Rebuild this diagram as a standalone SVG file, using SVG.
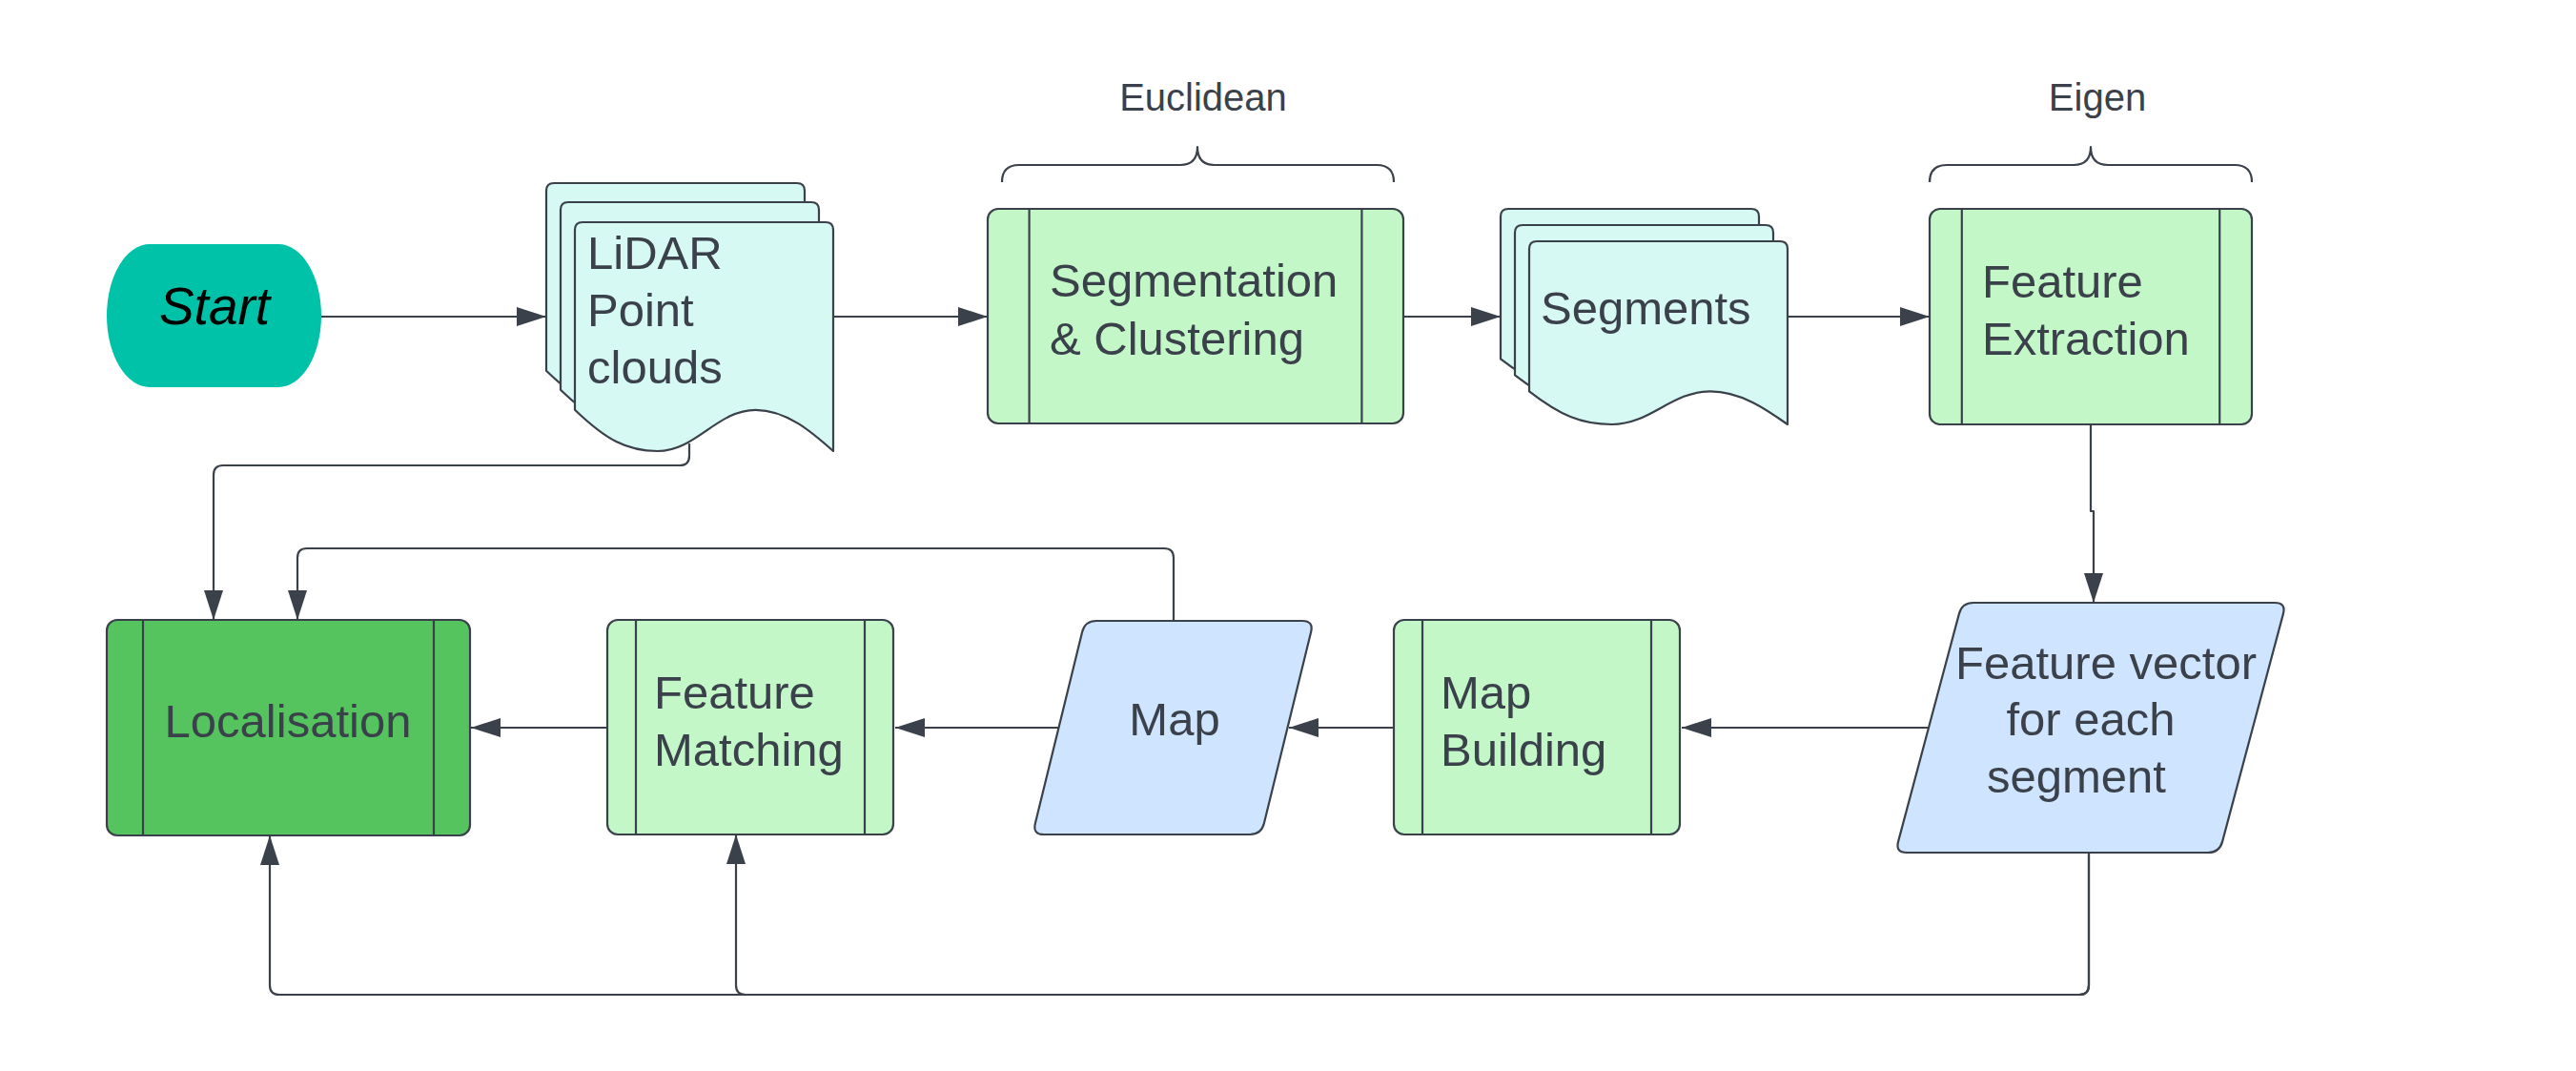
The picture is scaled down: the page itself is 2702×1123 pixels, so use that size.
<svg xmlns="http://www.w3.org/2000/svg" width="2702" height="1123" viewBox="0 0 2702 1123">
<style>
.ln{fill:none;stroke:#3a414a;stroke-width:2.2;stroke-linejoin:round}
.proc{fill:#c3f7c8;stroke:#3a414a;stroke-width:2.2}
.procd{fill:#55c45f;stroke:#3a414a;stroke-width:2.2}
.doc{fill:#d6f9f3;stroke:#3a414a;stroke-width:2.2;stroke-linejoin:round}
.io{fill:#cfe4ff;stroke:#3a414a;stroke-width:2.2;stroke-linejoin:round}
.t{font-family:"Liberation Sans",Arial,sans-serif;font-size:49px;fill:#3a414a}
.tl{font-family:"Liberation Sans",Arial,sans-serif;font-size:40px;fill:#3a414a}
.c{text-anchor:middle}
</style>
<defs>
<marker id="ah" markerUnits="userSpaceOnUse" markerWidth="31" markerHeight="20" refX="31" refY="10" orient="auto">
<path d="M0,0 L31,10 L0,20 Z" fill="#3a414a"/>
</marker>
<path id="docL" d="M0,8 Q0,0 8,0 H263 Q271,0 271,8 V240 C249.3,220.8 222.2,196.8 189.7,196.8 C149,196.8 127.4,240 86.7,240 C54.2,240 32.5,228 0,196.8 Z"/>
<path id="docS" d="M0,8 Q0,0 8,0 H263 Q271,0 271,8 V192 C249.3,176.6 222.2,157.4 189.7,157.4 C149,157.4 127.4,192 86.7,192 C54.2,192 32.5,182.4 0,157.4 Z"/>
</defs>
<rect width="2702" height="1123" fill="#ffffff"/>

<g id="start">
<rect x="112" y="256" width="225" height="150" rx="45" ry="75" fill="#00c2a8"/>
<text x="225" y="340" text-anchor="middle" font-family="Liberation Sans, Arial, sans-serif" font-size="55" font-style="italic" fill="#000000">Start</text>
</g>

<g id="lidar">
<use href="#docL" class="doc" transform="translate(573,192)"/>
<use href="#docL" class="doc" transform="translate(588,212)"/>
<use href="#docL" class="doc" transform="translate(603,233)"/>
<text class="t" x="616" y="282">LiDAR</text>
<text class="t" x="616" y="342">Point</text>
<text class="t" x="616" y="402">clouds</text>
</g>

<g id="euclidean">
<path class="ln" d="M1051,191 Q1051,173 1069,173 H1238 Q1256,173 1256,154 Q1256,173 1274,173 H1444 Q1462,173 1462,191"/>
<text class="tl c" x="1262" y="116">Euclidean</text>
</g>

<g id="segmentation">
<rect class="proc" x="1036" y="219" width="436" height="225" rx="11"/>
<line class="ln" x1="1079.6" y1="219" x2="1079.6" y2="444"/>
<line class="ln" x1="1428.4" y1="219" x2="1428.4" y2="444"/>
<text class="t" x="1101" y="311">Segmentation</text>
<text class="t" x="1101" y="372">&amp; Clustering</text>
</g>

<g id="segments">
<use href="#docS" class="doc" transform="translate(1574,219)"/>
<use href="#docS" class="doc" transform="translate(1589,236)"/>
<use href="#docS" class="doc" transform="translate(1604,253)"/>
<text class="t" x="1616" y="340">Segments</text>
</g>

<g id="eigen">
<path class="ln" d="M2024,191 Q2024,173 2042,173 H2175 Q2193,173 2193,154 Q2193,173 2211,173 H2344 Q2362,173 2362,191"/>
<text class="tl c" x="2200" y="116">Eigen</text>
</g>

<g id="feature-extraction">
<rect class="proc" x="2024" y="219" width="338" height="226" rx="11"/>
<line class="ln" x1="2057.8" y1="219" x2="2057.8" y2="445"/>
<line class="ln" x1="2328.2" y1="219" x2="2328.2" y2="445"/>
<text class="t" x="2079" y="312">Feature</text>
<text class="t" x="2079" y="372">Extraction</text>
</g>

<g id="feature-vector">
<path class="io" d="M2070,632 H2386 Q2398,632 2394.9,643.6 L2331.1,882.4 Q2328,894 2316,894 H2000 Q1988,894 1991.1,882.4 L2054.9,643.6 Q2058,632 2070,632 Z"/>
<text class="t c" x="2209" y="712">Feature vector</text>
<text class="t c" x="2193" y="771">for each</text>
<text class="t c" x="2178" y="831">segment</text>
</g>

<g id="map-building">
<rect class="proc" x="1462" y="650" width="300" height="225" rx="11"/>
<line class="ln" x1="1492" y1="650" x2="1492" y2="875"/>
<line class="ln" x1="1732" y1="650" x2="1732" y2="875"/>
<text class="t" x="1511" y="743">Map</text>
<text class="t" x="1511" y="803">Building</text>
</g>

<g id="map">
<path class="io" d="M1150,651 H1366 Q1378,651 1375.1,662.7 L1325.9,863.3 Q1323,875 1311,875 H1095 Q1083,875 1085.9,863.3 L1135.1,662.7 Q1138,651 1150,651 Z"/>
<text class="t c" x="1232" y="771">Map</text>
</g>

<g id="feature-matching">
<rect class="proc" x="637" y="650" width="300" height="225" rx="11"/>
<line class="ln" x1="667" y1="650" x2="667" y2="875"/>
<line class="ln" x1="907" y1="650" x2="907" y2="875"/>
<text class="t" x="686" y="743">Feature</text>
<text class="t" x="686" y="803">Matching</text>
</g>

<g id="localisation">
<rect class="procd" x="112" y="650" width="381" height="226" rx="11"/>
<line class="ln" x1="150" y1="650" x2="150" y2="876"/>
<line class="ln" x1="455" y1="650" x2="455" y2="876"/>
<text class="t c" x="302" y="773">Localisation</text>
</g>

<g id="connectors">
<path class="ln" marker-end="url(#ah)" d="M337,332 H573"/>
<path class="ln" marker-end="url(#ah)" d="M874,332 H1036"/>
<path class="ln" marker-end="url(#ah)" d="M1472,332 H1574"/>
<path class="ln" marker-end="url(#ah)" d="M1875,332 H2024"/>
<path class="ln" marker-end="url(#ah)" d="M2193,445 V536 H2196 V632"/>
<path class="ln" marker-end="url(#ah)" d="M2022,763 H1764"/>
<path class="ln" marker-end="url(#ah)" d="M1462,763 H1352"/>
<path class="ln" marker-end="url(#ah)" d="M1110,763 H939"/>
<path class="ln" marker-end="url(#ah)" d="M637,763 H494"/>
<path class="ln" marker-end="url(#ah)" d="M1231,651 V585 Q1231,575 1221,575 H322 Q312,575 312,585 V650"/>
<path class="ln" marker-end="url(#ah)" d="M723,465 V478 Q723,488 713,488 H234 Q224,488 224,498 V650"/>
<path class="ln" marker-end="url(#ah)" d="M2191,894 V1033 Q2191,1043 2181,1043 H293 Q283,1043 283,1033 V876"/>
<path class="ln" marker-end="url(#ah)" d="M2191,894 V1033 Q2191,1043 2181,1043 H782 Q772,1043 772,1033 V875"/>
</g>
</svg>
